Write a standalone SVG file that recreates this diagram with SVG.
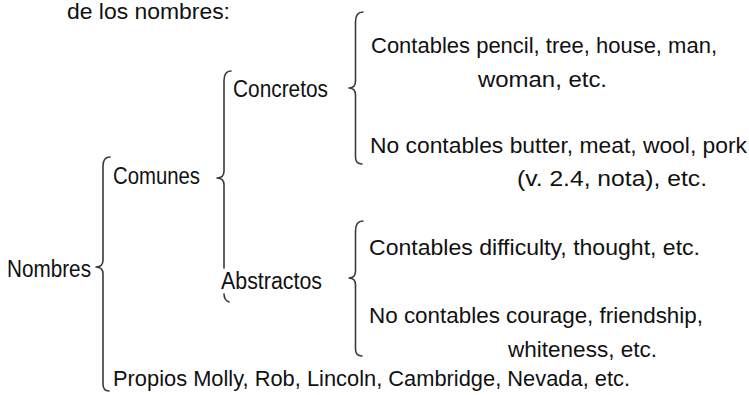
<svg xmlns="http://www.w3.org/2000/svg" width="749" height="395" viewBox="0 0 749 395">
  <style>
    .t { font-family: "Liberation Sans", Arial, sans-serif; font-size: 22.5px; fill: #111; }
    .lbl { font-size: 23.5px; }
    .brace { fill: none; stroke: #3a3a3a; stroke-width: 1.6; stroke-linecap: round; stroke-linejoin: round; }
  </style>
  <rect width="749" height="395" fill="#ffffff"/>

  <!-- heading -->
  <text class="t" x="67" y="19" textLength="163" lengthAdjust="spacingAndGlyphs">de los nombres:</text>

  <!-- braces -->
  <g id="connectors">
    <!-- Nombres -->
    <path class="brace" d="M110,157 Q103,157 103,166 L103,260 Q103,267 96,267 Q103,267 103,274 L103,384 Q103,391 109,391"/>
    <!-- Comunes -->
    <path class="brace" d="M231,71 Q224,71 224,81 L224,171 Q224,178 217,178 Q224,178 224,185 L224,268 M224,294 Q224,300 229,302"/>
    <!-- Concretos -->
    <path class="brace" d="M363,12 Q355.5,12 355.5,22 L355.5,81 Q355.5,88 349,88 Q355.5,88 355.5,95 L355.5,157 Q355.5,164 362,164"/>
    <!-- Abstractos -->
    <path class="brace" d="M363,221 Q355.5,221 355.5,231 L355.5,271 Q355.5,278 349,278 Q355.5,278 355.5,285 L355.5,349 Q355.5,356 362,356"/>
  </g>

  <g id="nombres"><text class="t lbl" x="7" y="277" textLength="84" lengthAdjust="spacingAndGlyphs">Nombres</text></g>
  <g id="comunes"><text class="t lbl" x="113" y="184" textLength="87" lengthAdjust="spacingAndGlyphs">Comunes</text></g>
  <g id="concretos"><text class="t lbl" x="233" y="97" textLength="95" lengthAdjust="spacingAndGlyphs">Concretos</text></g>
  <g id="abstractos"><text class="t lbl" x="221" y="289" textLength="101" lengthAdjust="spacingAndGlyphs">Abstractos</text></g>

  <g id="concretos-contables">
    <text class="t" x="371" y="53" textLength="346" lengthAdjust="spacingAndGlyphs">Contables pencil, tree, house, man,</text>
    <text class="t" x="478" y="87" textLength="129" lengthAdjust="spacingAndGlyphs">woman, etc.</text>
  </g>
  <g id="concretos-no-contables">
    <text class="t" x="370" y="153" textLength="377" lengthAdjust="spacingAndGlyphs">No contables butter, meat, wool, pork</text>
    <text class="t" x="517" y="186" textLength="190" lengthAdjust="spacingAndGlyphs">(v. 2.4, nota), etc.</text>
  </g>
  <g id="abstractos-contables">
    <text class="t" x="369" y="255" textLength="331" lengthAdjust="spacingAndGlyphs">Contables difficulty, thought, etc.</text>
  </g>
  <g id="abstractos-no-contables">
    <text class="t" x="369" y="323" textLength="334" lengthAdjust="spacingAndGlyphs">No contables courage, friendship,</text>
    <text class="t" x="508" y="357" textLength="149" lengthAdjust="spacingAndGlyphs">whiteness, etc.</text>
  </g>
  <g id="propios">
    <text class="t" x="113" y="386" textLength="517" lengthAdjust="spacingAndGlyphs">Propios Molly, Rob, Lincoln, Cambridge, Nevada, etc.</text>
  </g>
</svg>
